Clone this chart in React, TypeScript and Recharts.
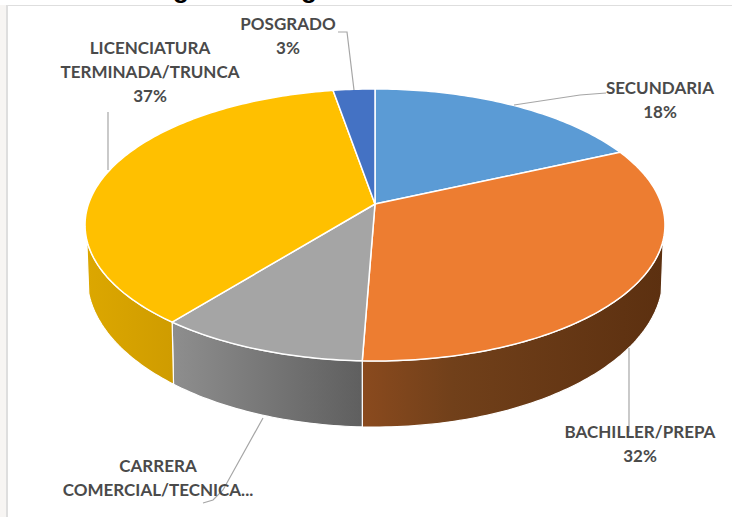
import { PieChart, Pie, Cell } from 'recharts';

const categories = ['SECUNDARIA', 'BACHILLER/PREPA', 'CARRERA COMERCIAL/TECNICA...', 'LICENCIATURA TERMINADA/TRUNCA', 'POSGRADO'];
const shares = [18.2, 32.4, 10.1, 36.6, 2.7];
const colors = ['#5B9BD5', '#ED7D31', '#A5A5A5', '#FFC000', '#4472C4'];

const labelLines = [['SECUNDARIA'], ['BACHILLER/PREPA'], ['CARRERA', 'COMERCIAL/TECNICA...'], ['LICENCIATURA', 'TERMINADA/TRUNCA'], ['POSGRADO']];
const labelPos = [[660, 94], [640, 438], [158, 472], [150, 54], [288, 30]];
// the carrera label is truncated in the picture, its percent never shows
const showPercent = [true, true, false, true, true];
const leaders = [
  '606,93 580,95 514,105',
  '629,348 629,432',
  '263,418 223,490 213,500 203,503',
  '108,112 108,170',
  '338,32 347,32 354,90',
];

const data = categories.map((name, i) => ({ name, value: shares[i] }));

// perspective of the tilted disc, top face and bottom face
const TILT = 0.154;
const Y_SCALE = 132.8 / 286.5;
const BOTTOM = { dy: 50, sx: 284.5 / 286.5, sy: 146.4 / 286.5 };
const WALL_FROM = 105;
const WALL_TO = 255;

function rimPoint(cx: number, cy: number, r: number, deg: number, bottom = false) {
  const t = (deg * Math.PI) / 180;
  const d = 1 + TILT * Math.cos(t);
  const sx = bottom ? BOTTOM.sx : 1;
  const sy = bottom ? BOTTOM.sy : Y_SCALE;
  const y0 = bottom ? cy + BOTTOM.dy : cy;
  return [cx + (r * sx * Math.sin(t)) / d, y0 - (r * sy * Math.cos(t)) / d];
}

function sweep(cx: number, cy: number, r: number, from: number, to: number, bottom = false) {
  const pts: string[] = [];
  const n = Math.max(2, Math.ceil(Math.abs(to - from)));
  for (let i = 0; i <= n; i++) {
    const p = rimPoint(cx, cy, r, from + ((to - from) * i) / n, bottom);
    pts.push(`${p[0].toFixed(2)} ${p[1].toFixed(2)}`);
  }
  return pts;
}

function DiscSlice(props: any) {
  const { cx, cy, outerRadius, startAngle, endAngle, fill, index } = props;
  const a = 90 - startAngle;
  const b = 90 - endAngle;
  const top = `M${cx} ${cy}L${sweep(cx, cy, outerRadius, a, b).join('L')}Z`;
  const wa = Math.max(a, WALL_FROM);
  const wb = Math.min(b, WALL_TO);
  let wall = null;
  if (wb > wa) {
    const upper = sweep(cx, cy, outerRadius, wa, wb);
    const lower = sweep(cx, cy, outerRadius, wb, wa, true);
    wall = `M${upper.concat(lower).join('L')}Z`;
  }
  return (
    <g>
      {wall && <path d={wall} fill={`url(#wall${index})`} stroke="#fff" strokeWidth={1.2} />}
      <path d={top} fill={fill} stroke="#fff" strokeWidth={1.5} strokeLinejoin="round" />
    </g>
  );
}

function SliceLabel(props: any) {
  const { index, percent } = props;
  const [x, y] = labelPos[index];
  const lines = [...labelLines[index]];
  if (showPercent[index]) lines.push(`${Math.round(percent * 100)}%`);
  return (
    <g>
      <polyline points={leaders[index]} fill="none" stroke="#a6a6a6" strokeWidth={1.2} />
      <text x={x} y={y} textAnchor="middle" fill="#4a4a4a" fontFamily="Lato, sans-serif" fontWeight={700} fontSize={17}>
        {lines.map((line, i) => (
          <tspan key={line} x={x} dy={i === 0 ? 0 : 24}>{line}</tspan>
        ))}
      </text>
    </g>
  );
}

export default function App() {
  return (
    <div style={{ position: 'absolute', left: 0, top: 0, width: 732, height: 517, background: '#fff', overflow: 'hidden' }}>
      <div style={{ position: 'absolute', left: 0, top: 5, width: 6, height: 512, background: '#f7f5f3' }} />
      <div style={{ position: 'absolute', left: 6, top: 5, width: 2, height: 512, background: '#dedede' }} />
      <div style={{ position: 'absolute', left: 6, top: 5, width: 726, height: 1, background: '#dedede' }} />
      <PieChart width={732} height={517} margin={{ top: 0, right: 0, bottom: 0, left: 0 }} style={{ position: 'absolute', left: 0, top: 0 }}>
        <defs>
          <linearGradient id="wall1" x1="0" y1="0" x2="1" y2="0">
            <stop offset="0" stopColor="#8a4a1e" />
            <stop offset="0.3" stopColor="#71401a" />
            <stop offset="1" stopColor="#5c3010" />
          </linearGradient>
          <linearGradient id="wall2" x1="0" y1="0" x2="1" y2="0">
            <stop offset="0" stopColor="#8e8e8e" />
            <stop offset="1" stopColor="#5f5f5f" />
          </linearGradient>
          <linearGradient id="wall3" x1="0" y1="0" x2="1" y2="0">
            <stop offset="0" stopColor="#dca700" />
            <stop offset="1" stopColor="#cf9c00" />
          </linearGradient>
        </defs>
        <text x={181} y={-2} textAnchor="middle" fontFamily="Liberation Sans" fontWeight={700} fontSize={26} fill="#000">g</text>
        <text x={309} y={-2} textAnchor="middle" fontFamily="Liberation Sans" fontWeight={700} fontSize={26} fill="#000">g</text>
        <Pie
          data={data}
          dataKey="value"
          nameKey="name"
          cx={375}
          cy={204}
          outerRadius={286.5}
          startAngle={90}
          endAngle={-270}
          shape={DiscSlice}
          label={SliceLabel}
          labelLine={false}
          isAnimationActive={false}
        >
          {data.map((d, i) => (
            <Cell key={d.name} fill={colors[i]} />
          ))}
        </Pie>
      </PieChart>
    </div>
  );
}
